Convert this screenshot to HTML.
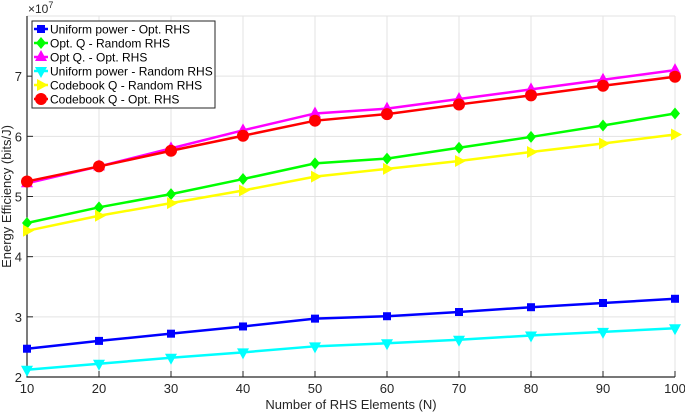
<!DOCTYPE html>
<html><head><meta charset="utf-8"><style>
body{margin:0;background:#fff;}
svg{display:block;font-family:"Liberation Sans",Arial,sans-serif;}
</style></head><body>
<svg id="c" width="685" height="414"></svg>
<script>
const categories=[10,20,30,40,50,60,70,80,90,100];
const uniformOpt=[2.47,2.60,2.72,2.84,2.97,3.01,3.08,3.16,3.23,3.30];
const optQRandom=[4.56,4.82,5.04,5.29,5.55,5.63,5.81,5.99,6.18,6.38];
const optQOpt=[5.22,5.50,5.80,6.10,6.38,6.46,6.62,6.78,6.94,7.10];
const uniformRandom=[2.12,2.22,2.32,2.41,2.51,2.56,2.62,2.69,2.75,2.81];
const codebookRandom=[4.43,4.68,4.89,5.10,5.33,5.46,5.59,5.74,5.88,6.03];
const codebookOpt=[5.25,5.50,5.76,6.01,6.26,6.37,6.53,6.68,6.84,6.99];
const xTicks=[10,20,30,40,50,60,70,80,90,100];
const yTicks=[2,3,4,5,6,7];
const series=[
 {name:"Uniform power - Opt. RHS",data:uniformOpt,color:"#0000ff",m:"square",id:"uniform-opt"},
 {name:"Opt. Q - Random RHS",data:optQRandom,color:"#00ff00",m:"diamond",id:"optq-random"},
 {name:"Opt Q. - Opt. RHS",data:optQOpt,color:"#ff00ff",m:"up",id:"optq-opt"},
 {name:"Uniform power - Random RHS",data:uniformRandom,color:"#00ffff",m:"down",id:"uniform-random"},
 {name:"Codebook Q - Random RHS",data:codebookRandom,color:"#ffff00",m:"right",id:"codebook-random"},
 {name:"Codebook Q - Opt. RHS",data:codebookOpt,color:"#ff0000",m:"circle",id:"codebook-opt"}
];
const L=27,R=675,T=16,B=377;
const xs=v=>L+(v-10)/90*(R-L);
const ys=v=>B-(v-2)/6*(B-T);
const svg=document.getElementById('c');
const NS="http://www.w3.org/2000/svg";
function el(tag,attrs,parent){const e=document.createElementNS(NS,tag);for(const k in attrs)e.setAttribute(k,attrs[k]);(parent||svg).appendChild(e);return e;}
// grid
xTicks.forEach(t=>{const g=el('line',{x1:xs(t),x2:xs(t),y1:T,y2:B,stroke:'#e3e3e3','stroke-width':1});

});
yTicks.concat([8]).forEach(t=>{const g=el('line',{x1:L,x2:R,y1:ys(t),y2:ys(t),stroke:'#e3e3e3','stroke-width':1});

});
// axes
const ax=el('path',{d:`M${L},${T}V${B}H${R}`,fill:'none',stroke:'#262626','stroke-width':1.2});


xTicks.forEach(t=>{el('line',{x1:xs(t),x2:xs(t),y1:B,y2:B-6,stroke:'#262626'});
const tx=el('text',{x:xs(t),y:B+16,'text-anchor':'middle','font-size':13,fill:'#262626'});tx.textContent=t;

});
yTicks.forEach(t=>{el('line',{x1:L,x2:L+6,y1:ys(t),y2:ys(t),stroke:'#262626'});
const tx=el('text',{x:L-5,y:ys(t)+5,'text-anchor':'end','font-size':13,fill:'#262626'});tx.textContent=t;

});
const ex=el('text',{x:28,y:13,'font-size':12,fill:'#262626'});ex.innerHTML='×10<tspan dy="-5" font-size="9">7</tspan>';


const xl=el('text',{x:(L+R)/2,y:409,'text-anchor':'middle','font-size':13,fill:'#262626'});xl.textContent='Number of RHS Elements (N)';


const yl=el('text',{x:0,y:0,'text-anchor':'middle','font-size':13,fill:'#262626',transform:`translate(11,${(T+B)/2}) rotate(-90)`});yl.textContent='Energy Efficiency (bits/J)';


function marker(g,type,x,y,c){
 const s=5;
 if(type==='square')el('rect',{x:x-s+1,y:y-s+1,width:2*s-2,height:2*s-2,fill:c},g);
 else if(type==='diamond')el('path',{d:`M${x},${y-6}L${x+5},${y}L${x},${y+6}L${x-5},${y}Z`,fill:c},g);
 else if(type==='up')el('path',{d:`M${x},${y-7}L${x+6},${y+4}L${x-6},${y+4}Z`,fill:c},g);
 else if(type==='down')el('path',{d:`M${x},${y+7}L${x+6},${y-4}L${x-6},${y-4}Z`,fill:c},g);
 else if(type==='right')el('path',{d:`M${x+7},${y}L${x-4},${y+6}L${x-4},${y-6}Z`,fill:c},g);
 else el('circle',{cx:x,cy:y,r:6,fill:c},g);
}
series.forEach(s=>{
 const g=el('g',{});
 
 
 el('polyline',{points:s.data.map((v,i)=>xs(categories[i])+','+ys(v)).join(' '),fill:'none',stroke:s.color,'stroke-width':2.5},g);
 s.data.forEach((v,i)=>marker(g,s.m,xs(categories[i]),ys(v),s.color));
});
// legend
const lg=el('g',{});


el('rect',{x:32,y:21,width:183,height:87,fill:'#fff',stroke:'#262626','stroke-width':1},lg);
series.forEach((s,i)=>{
 const y=29+i*14;
 const e=el('g',{},lg);
 
 
 el('line',{x1:34,x2:48,y1:y,y2:y,stroke:s.color,'stroke-width':2.5},e);
 marker(e,s.m,41,y,s.color);
 const t=el('text',{x:50,y:y+4.5,'font-size':12,fill:'#000'},e);t.textContent=s.name;
});
</script>
</body></html>
